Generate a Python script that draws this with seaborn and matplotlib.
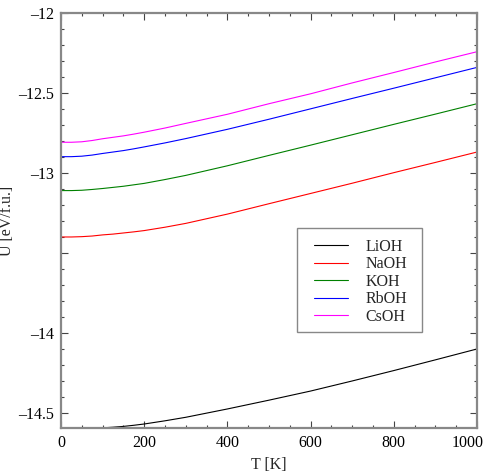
import matplotlib
matplotlib.use("Agg")
import matplotlib.pyplot as plt
import matplotlib.transforms as mtransforms
from matplotlib.patches import Rectangle
from matplotlib.ticker import MultipleLocator, FixedLocator, FuncFormatter
import numpy as np
import pandas as pd
import seaborn as sns

# Internal energy vs temperature for alkali hydroxides
T = [0, 25, 50, 75, 100, 125, 150, 175, 200, 250, 300, 400, 500, 600, 700, 800, 900, 1000]
U_LiOH = [-14.595, -14.595, -14.595, -14.594, -14.593, -14.589, -14.584, -14.577, -14.569,
          -14.549, -14.527, -14.475, -14.420, -14.363, -14.300, -14.235, -14.168, -14.100]
U_NaOH = [-13.400, -13.400, -13.398, -13.394, -13.387, -13.382, -13.375, -13.368, -13.360,
          -13.339, -13.315, -13.257, -13.192, -13.128, -13.064, -12.998, -12.934, -12.869]
U_KOH = [-13.110, -13.110, -13.108, -13.103, -13.097, -13.090, -13.083, -13.074, -13.065,
         -13.041, -13.015, -12.955, -12.890, -12.826, -12.761, -12.696, -12.632, -12.567]
U_RbOH = [-12.898, -12.898, -12.895, -12.888, -12.878, -12.869, -12.860, -12.849, -12.837,
          -12.812, -12.785, -12.727, -12.664, -12.599, -12.534, -12.470, -12.405, -12.340]
U_CsOH = [-12.808, -12.808, -12.805, -12.797, -12.786, -12.777, -12.768, -12.757, -12.745,
          -12.719, -12.690, -12.633, -12.567, -12.505, -12.437, -12.372, -12.306, -12.242]

compounds = ["LiOH", "NaOH", "KOH", "RbOH", "CsOH"]
series = [U_LiOH, U_NaOH, U_KOH, U_RbOH, U_CsOH]
colors = ["black", "red", "green", "blue", "magenta"]

y_major = [-12, -12.5, -13, -13.5, -14, -14.5]
y_labelled = [-12, -12.5, -13, -14, -14.5]
x_major = [0, 200, 400, 600, 800, 1000]

df = pd.DataFrame({
    "T": np.tile(T, len(compounds)),
    "U": np.concatenate(series),
    "compound": np.repeat(compounds, len(T)),
})

sns.set_theme(style="white")
plt.rcParams["font.family"] = ["Liberation Serif", "DejaVu Serif"]

fig = plt.figure(figsize=(4.85, 4.73), dpi=100)
ax = fig.add_axes([61 / 485, 1 - 428 / 473, 416 / 485, 415 / 473])

sns.lineplot(data=df, x="T", y="U", hue="compound", hue_order=compounds,
             palette=colors, linewidth=0.8, ax=ax)

ax.set_xlim(0, 1000)
ax.set_ylim(-14.594, -12)

ax.xaxis.set_major_locator(FixedLocator(x_major))
ax.xaxis.set_minor_locator(MultipleLocator(50))
ax.yaxis.set_major_locator(FixedLocator(y_major))
ax.yaxis.set_minor_locator(MultipleLocator(0.1))


def ylab(v, pos):
    if any(abs(v - w) < 1e-9 for w in y_labelled):
        return f"{v:g}".replace("-", "\u2013")
    return ""


ax.yaxis.set_major_formatter(FuncFormatter(ylab))
ax.xaxis.set_major_formatter(FuncFormatter(lambda v, p: f"{v:g}"))

ax.tick_params(which="both", direction="in", top=True, right=True,
               bottom=True, left=True, colors="#444444", labelcolor="black",
               labelsize=11.5)
ax.tick_params(which="major", length=5, width=0.8, pad=5)
ax.tick_params(which="minor", length=2.5, width=0.8)

for sp in ax.spines.values():
    sp.set_color("#888888")
    sp.set_linewidth(1.6)

ax.set_xlabel("T [K]", fontsize=11.5, labelpad=4)
ax.set_ylabel("U [eV/f.u.]", fontsize=11.5)
ax.yaxis.set_label_coords((15 - 61) / 416, 0.5)

fig.canvas.draw()
last = ax.get_xticklabels()[-1]
last.set_transform(last.get_transform() +
                   mtransforms.ScaledTranslation(-9 / 100, 0, fig.dpi_scale_trans))

# legend entries without frame; the box is drawn separately
leg = ax.legend(loc="upper left", bbox_to_anchor=((314 - 61) / 416, (428 - 238.5) / 415),
                borderaxespad=0, fontsize=11.5, handlelength=2.1, handletextpad=1.1,
                labelspacing=0.1, borderpad=0, frameon=False)
for h in leg.get_lines():
    h.set_linewidth(0.8)

box = Rectangle(((297 - 61) / 416, (428 - 332) / 415), 125 / 416, 104 / 415,
                transform=ax.transAxes, facecolor="white", edgecolor="#888888",
                linewidth=1.0, zorder=4)
ax.add_patch(box)
leg.set_zorder(5)

fig.savefig("out.png", dpi=100, facecolor="white")
